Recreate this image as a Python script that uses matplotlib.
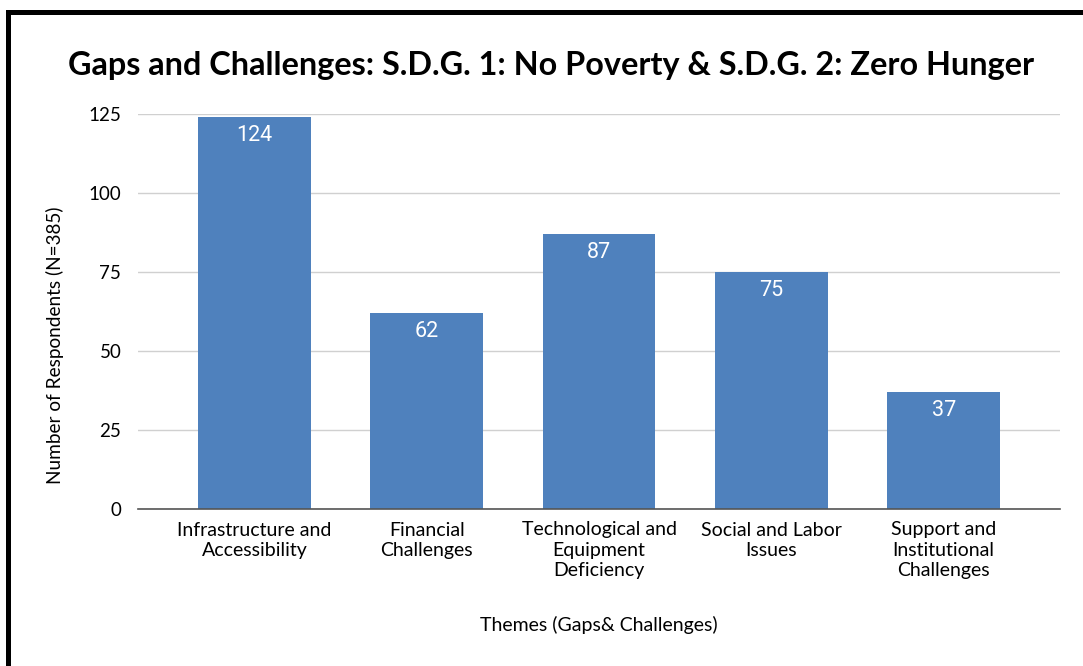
import matplotlib.pyplot as plt
from matplotlib.patches import Rectangle

themes = ['Infrastructure and\nAccessibility', 'Financial\nChallenges',
          'Technological and\nEquipment\nDeficiency', 'Social and Labor\nIssues',
          'Support and\nInstitutional\nChallenges']
respondents = [124, 62, 87, 75, 37]
yticks = [0, 25, 50, 75, 100, 125]

W, H = 1083, 666
fig = plt.figure(figsize=(W / 100, H / 100), dpi=100)
ax = fig.add_axes([138 / W, 1 - 509 / H, (1060 - 138) / W, (509 - 114) / H])

bars = ax.bar(range(len(themes)), respondents, width=0.655, color='#4F81BD', zorder=3)
for b, v in zip(bars, respondents):
    ax.text(b.get_x() + b.get_width() / 2, v - 2.6, str(v), ha='center', va='top',
            color='white', fontsize=15.5, family='Roboto', zorder=4)

ax.set_xlim(-0.675, 4.675)
ax.set_ylim(0, 125)
ax.set_yticks(yticks)
ax.set_xticks(range(len(themes)))
ax.set_xticklabels(themes, family='Lato', fontsize=14, linespacing=1.23)
ax.tick_params(axis='y', labelsize=13.5, length=0, pad=12)
ax.tick_params(axis='x', length=0, pad=9)
for lab in ax.get_yticklabels():
    lab.set_family('Lato')
ax.grid(axis='y', color='#D0D0D0', linewidth=1, zorder=0)
for s in ['top', 'right', 'left']:
    ax.spines[s].set_visible(False)
ax.spines['bottom'].set_color('#555555')
ax.spines['bottom'].set_linewidth(1.2)
ax.spines['bottom'].set_zorder(5)

ax.set_ylabel('Number of Respondents (N=385)', family='Lato', fontsize=13.7)
ax.yaxis.set_label_coords((64 - 138) / (1060 - 138), (509 - 345) / (509 - 114))
fig.text(599 / W, 1 - 625 / H, 'Themes (Gaps& Challenges)', ha='center', va='center',
         family='Lato', fontsize=14)
fig.text(551 / W, 1 - 65 / H, 'Gaps and Challenges: S.D.G. 1: No Poverty & S.D.G. 2: Zero Hunger',
         ha='center', va='center', family='Lato', fontweight='bold', fontsize=23.3)

# black frame running off the right and bottom edges
fig.add_artist(Rectangle((7.5 / W, -0.1), 1.2, 1.1 - 12 / H, transform=fig.transFigure,
                         fill=False, edgecolor='black', linewidth=3.6))

fig.savefig('out.png', dpi=100)
